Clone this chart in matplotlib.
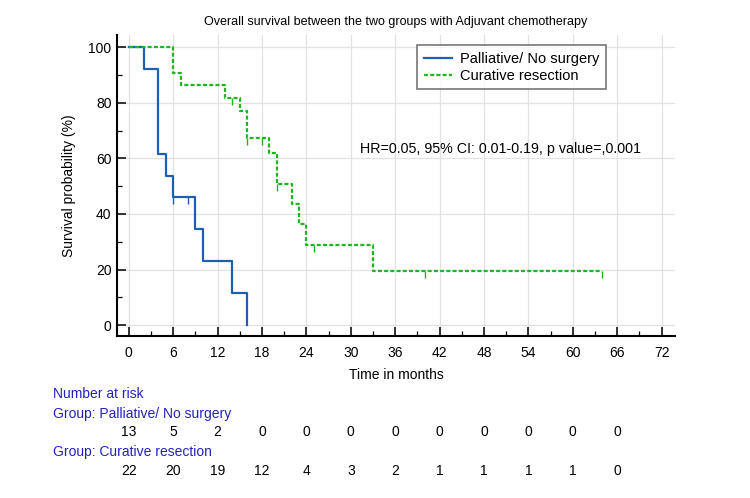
import numpy as np
import matplotlib.pyplot as plt
import matplotlib.transforms as mtransforms

plt.rcParams['font.family'] = ['Liberation Sans', 'DejaVu Sans']

# Kaplan-Meier steps (months, survival %)
pal_t = [0, 2, 4, 5, 6, 9, 10, 14, 16]
pal_s = [100, 92.3, 61.5, 53.8, 46.2, 34.6, 23.1, 11.5, 0]
pal_cens_t = [6, 8]
pal_cens_s = [46.2, 46.2]

cur_t = [0, 6, 7, 13, 15, 16, 19, 20, 22, 23, 24, 33, 64]
cur_s = [100, 90.9, 86.4, 81.8, 77.0, 67.4, 61.8, 50.8, 43.5, 36.3, 29.0, 19.4, 19.4]
cur_cens_t = [14, 16, 18, 20, 25, 40, 64]
cur_cens_s = [81.8, 67.4, 67.4, 50.8, 29.0, 19.4, 19.4]

risk_times = [0, 6, 12, 18, 24, 30, 36, 42, 48, 54, 60, 66]
pal_risk = [13, 5, 2, 0, 0, 0, 0, 0, 0, 0, 0, 0]
cur_risk = [22, 20, 19, 12, 4, 3, 2, 1, 1, 1, 1, 0]

blue = '#1f5fb2'
green = '#1fb51f'
tblue = '#2222bb'

fig = plt.figure(figsize=(7.5, 4.98), dpi=100)
ax = fig.add_axes([117/750, 1-336/498, 558/750, 301/498])

ax.step(pal_t, pal_s, where='post', color=blue, lw=1.6, label='Palliative/ No surgery')
ax.step(cur_t, cur_s, where='post', color=green, lw=1.6, ls=(0, (1.8, 1.0)), label='Curative resection')
cl = 2.5  # length of censor marks (%)
ax.vlines(pal_cens_t, np.array(pal_cens_s) - cl, pal_cens_s, color=blue, lw=1.0)
ax.vlines(cur_cens_t, np.array(cur_cens_s) - cl, cur_cens_s, color=green, lw=1.0)

ax.set_xlim(-1.6, 73.8)
ax.set_ylim(-3.9, 104.4)
ax.set_xticks(np.arange(0, 73, 6))
ax.set_xticks(np.arange(3, 73, 6), minor=True)
ax.set_yticks(np.arange(0, 101, 20))
ax.set_yticks(np.arange(10, 100, 20), minor=True)
ax.grid(True, which='major', color='#e2e2e2', lw=0.9)
ax.set_axisbelow(True)
for s in ['top', 'right']:
    ax.spines[s].set_visible(False)
for s in ['left', 'bottom']:
    ax.spines[s].set_linewidth(1.5)
ax.tick_params(which='major', direction='in', length=6.5, width=1.1, labelsize=10, pad=4)
ax.tick_params(which='minor', direction='in', length=3.3, width=0.9)
ax.tick_params(axis='x', which='major', pad=7)

ax.set_xlabel('Time in months', fontsize=10, labelpad=6)
ax.set_ylabel('Survival probability (%)', fontsize=10, labelpad=9)
ax.set_title('Overall survival between the two groups with Adjuvant chemotherapy', fontsize=9, pad=7.5)

ax.text(31.2, 63.4, 'HR=0.05, 95% CI: 0.01-0.19, p value=,0.001', fontsize=10.3, va='center')

leg = ax.legend(loc='upper left', bbox_to_anchor=(0.525, 0.99), fontsize=10.5, frameon=True,
                fancybox=False, edgecolor='#555555', handlelength=1.9, handletextpad=0.6,
                borderpad=0.45, labelspacing=0.2)
leg.get_frame().set_linewidth(1.2)

# number at risk table
fig.text(53/750, 1-394/498, 'Number at risk', color=tblue, fontsize=10, va='center')
fig.text(53/750, 1-414/498, 'Group: Palliative/ No surgery', color=tblue, fontsize=10, va='center')
fig.text(53/750, 1-452/498, 'Group: Curative resection', color=tblue, fontsize=10, va='center')
trans = mtransforms.blended_transform_factory(ax.transData, fig.transFigure)
for t, n in zip(risk_times, pal_risk):
    ax.text(t, 1-432/498, str(n), transform=trans, ha='center', va='center', fontsize=10, clip_on=False)
for t, n in zip(risk_times, cur_risk):
    ax.text(t, 1-471/498, str(n), transform=trans, ha='center', va='center', fontsize=10, clip_on=False)

fig.savefig('out.png', dpi=100)
